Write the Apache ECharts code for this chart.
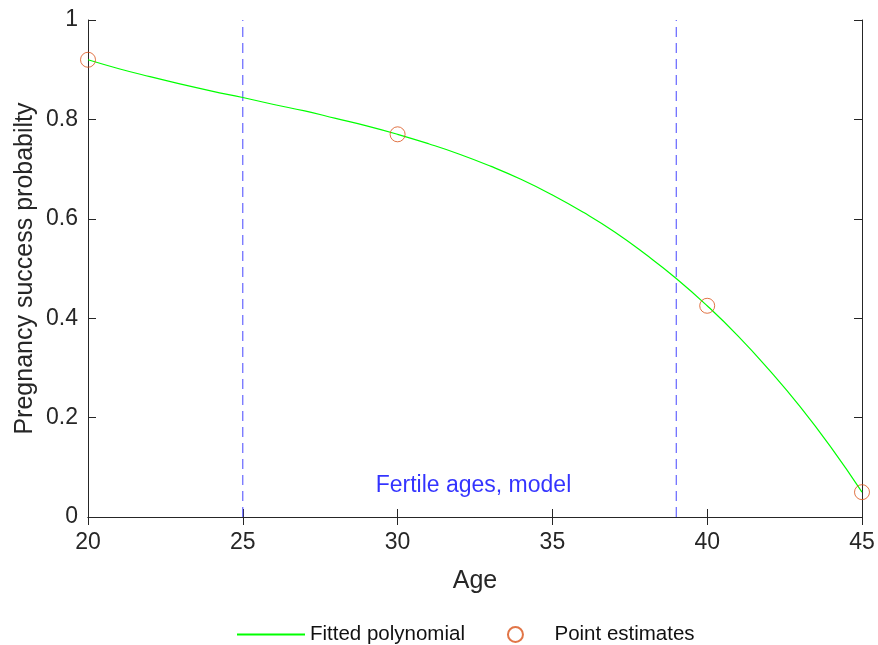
<!DOCTYPE html>
<html lang="en">
	<head>
		<meta charset="UTF-8">
		<title>Pregnancy success probability</title>
		<style type="text/css">
			html,
			body,
			#main {
				padding: 0;
				margin: 0;
				overflow: hidden;
				background-color: #fff;
				width: 878px;
				height: 645px;
			}
		</style>
	</head>
	<body>
		<div id="main"></div>
		<script type="text/javascript" src="https://cdn.jsdelivr.net/npm/echarts@6/dist/echarts.min.js"></script>
		<script type="text/javascript">
			// fitted polynomial at each whole year
			const fitAges = [20, 21, 22, 23, 24, 25, 26, 27, 28, 29, 30, 31, 32,
				33, 34, 35, 36, 37, 38, 39, 40, 41, 42, 43, 44, 45];
			const fitValues = [0.920, 0.902, 0.886, 0.871, 0.857, 0.844, 0.830, 0.817, 0.802, 0.787,
				0.770, 0.751, 0.730, 0.706, 0.679, 0.648, 0.613, 0.574, 0.529, 0.480,
				0.425, 0.364, 0.296, 0.222, 0.140, 0.050];
			// point estimates
			const pointAges = [20, 30, 40, 45];
			const pointValues = [0.92, 0.77, 0.425, 0.05];
			// fertile window (dashed lines)
			const fertileBounds = [25, 39];
			const noteText = 'Fertile ages, model';
			const notePos = [32.45, 0.064];

			const axisColor = '#262626';
			const font = '"Liberation Sans", Arial, sans-serif';

			const chart = echarts.init(document.getElementById('main'));

			function boxAxis (extra) {
				return Object.assign({
					type: 'value',
					axisLine: { show: true, lineStyle: { color: axisColor, width: 1 } },
					axisTick: { show: true, inside: true, length: 8, lineStyle: { color: axisColor } },
					splitLine: { show: false },
					axisLabel: { show: false }
				}, extra);
			}

			// one dashed vertical per bound, spanning the y range
			const boundSeries = fertileBounds.map(function (b) {
				return {
					name: 'bound' + b,
					type: 'line',
					data: [[b, 0], [b, 1]],
					symbol: 'none',
					silent: true,
					lineStyle: { color: '#4646ff', width: 1, type: [10, 6] },
					z: 2
				};
			});

			const option = {
				animation: false,
				backgroundColor: '#fff',
				grid: { left: 88, right: 16, top: 20, bottom: 128 },
				xAxis: [
					boxAxis({
						min: 20, max: 45, interval: 5, position: 'bottom',
						name: 'Age', nameLocation: 'middle', nameGap: 52,
						nameTextStyle: { color: axisColor, fontSize: 25, fontFamily: font },
						axisLabel: { show: true, margin: 14, color: axisColor, fontSize: 23, fontFamily: font }
					}),
					boxAxis({ min: 20, max: 45, interval: 5, position: 'top' })
				],
				yAxis: [
					boxAxis({
						min: 0, max: 1, interval: 0.2, position: 'left',
						name: 'Pregnancy success probabilty', nameLocation: 'middle', nameGap: 50,
						nameMoveOverlap: false,
						nameTextStyle: { color: axisColor, fontSize: 25, fontFamily: font },
						axisLabel: { show: true, margin: 10, color: axisColor, fontSize: 23, fontFamily: font }
					}),
					boxAxis({ min: 0, max: 1, interval: 0.2, position: 'right' })
				],
				legend: {
					top: 619,
					left: 231,
					orient: 'horizontal',
					itemWidth: 68,
					itemHeight: 15,
					itemGap: 42,
					data: [
						{ name: 'Fitted polynomial', itemStyle: { opacity: 0 } },
						'Point estimates'
					],
					textStyle: { color: '#111', fontSize: 20.5, fontFamily: font }
				},
				series: boundSeries.concat([
					{
						name: 'Fitted polynomial',
						type: 'line',
						data: fitAges.map((a, i) => [a, fitValues[i]]),
						symbol: 'none',
						smooth: true,
						lineStyle: { color: '#00ff00', width: 1.2 },
						itemStyle: { color: '#00ff00' },
						z: 3
					},
					{
						name: 'Point estimates',
						type: 'scatter',
						data: pointAges.map((a, i) => [a, pointValues[i]]),
						symbol: 'circle',
						symbolSize: 15,
						itemStyle: { color: 'rgba(255,255,255,0)', borderColor: '#d95319', borderWidth: 1 },
						z: 4
					},
					{
						name: 'note',
						type: 'scatter',
						data: [notePos],
						symbolSize: 0,
						silent: true,
						label: {
							show: true,
							position: 'inside',
							formatter: noteText,
							color: '#0000ff',
							fontSize: 23,
							fontFamily: font
						}
					}
				])
			};
			chart.setOption(option);
		</script>
	</body>
</html>
